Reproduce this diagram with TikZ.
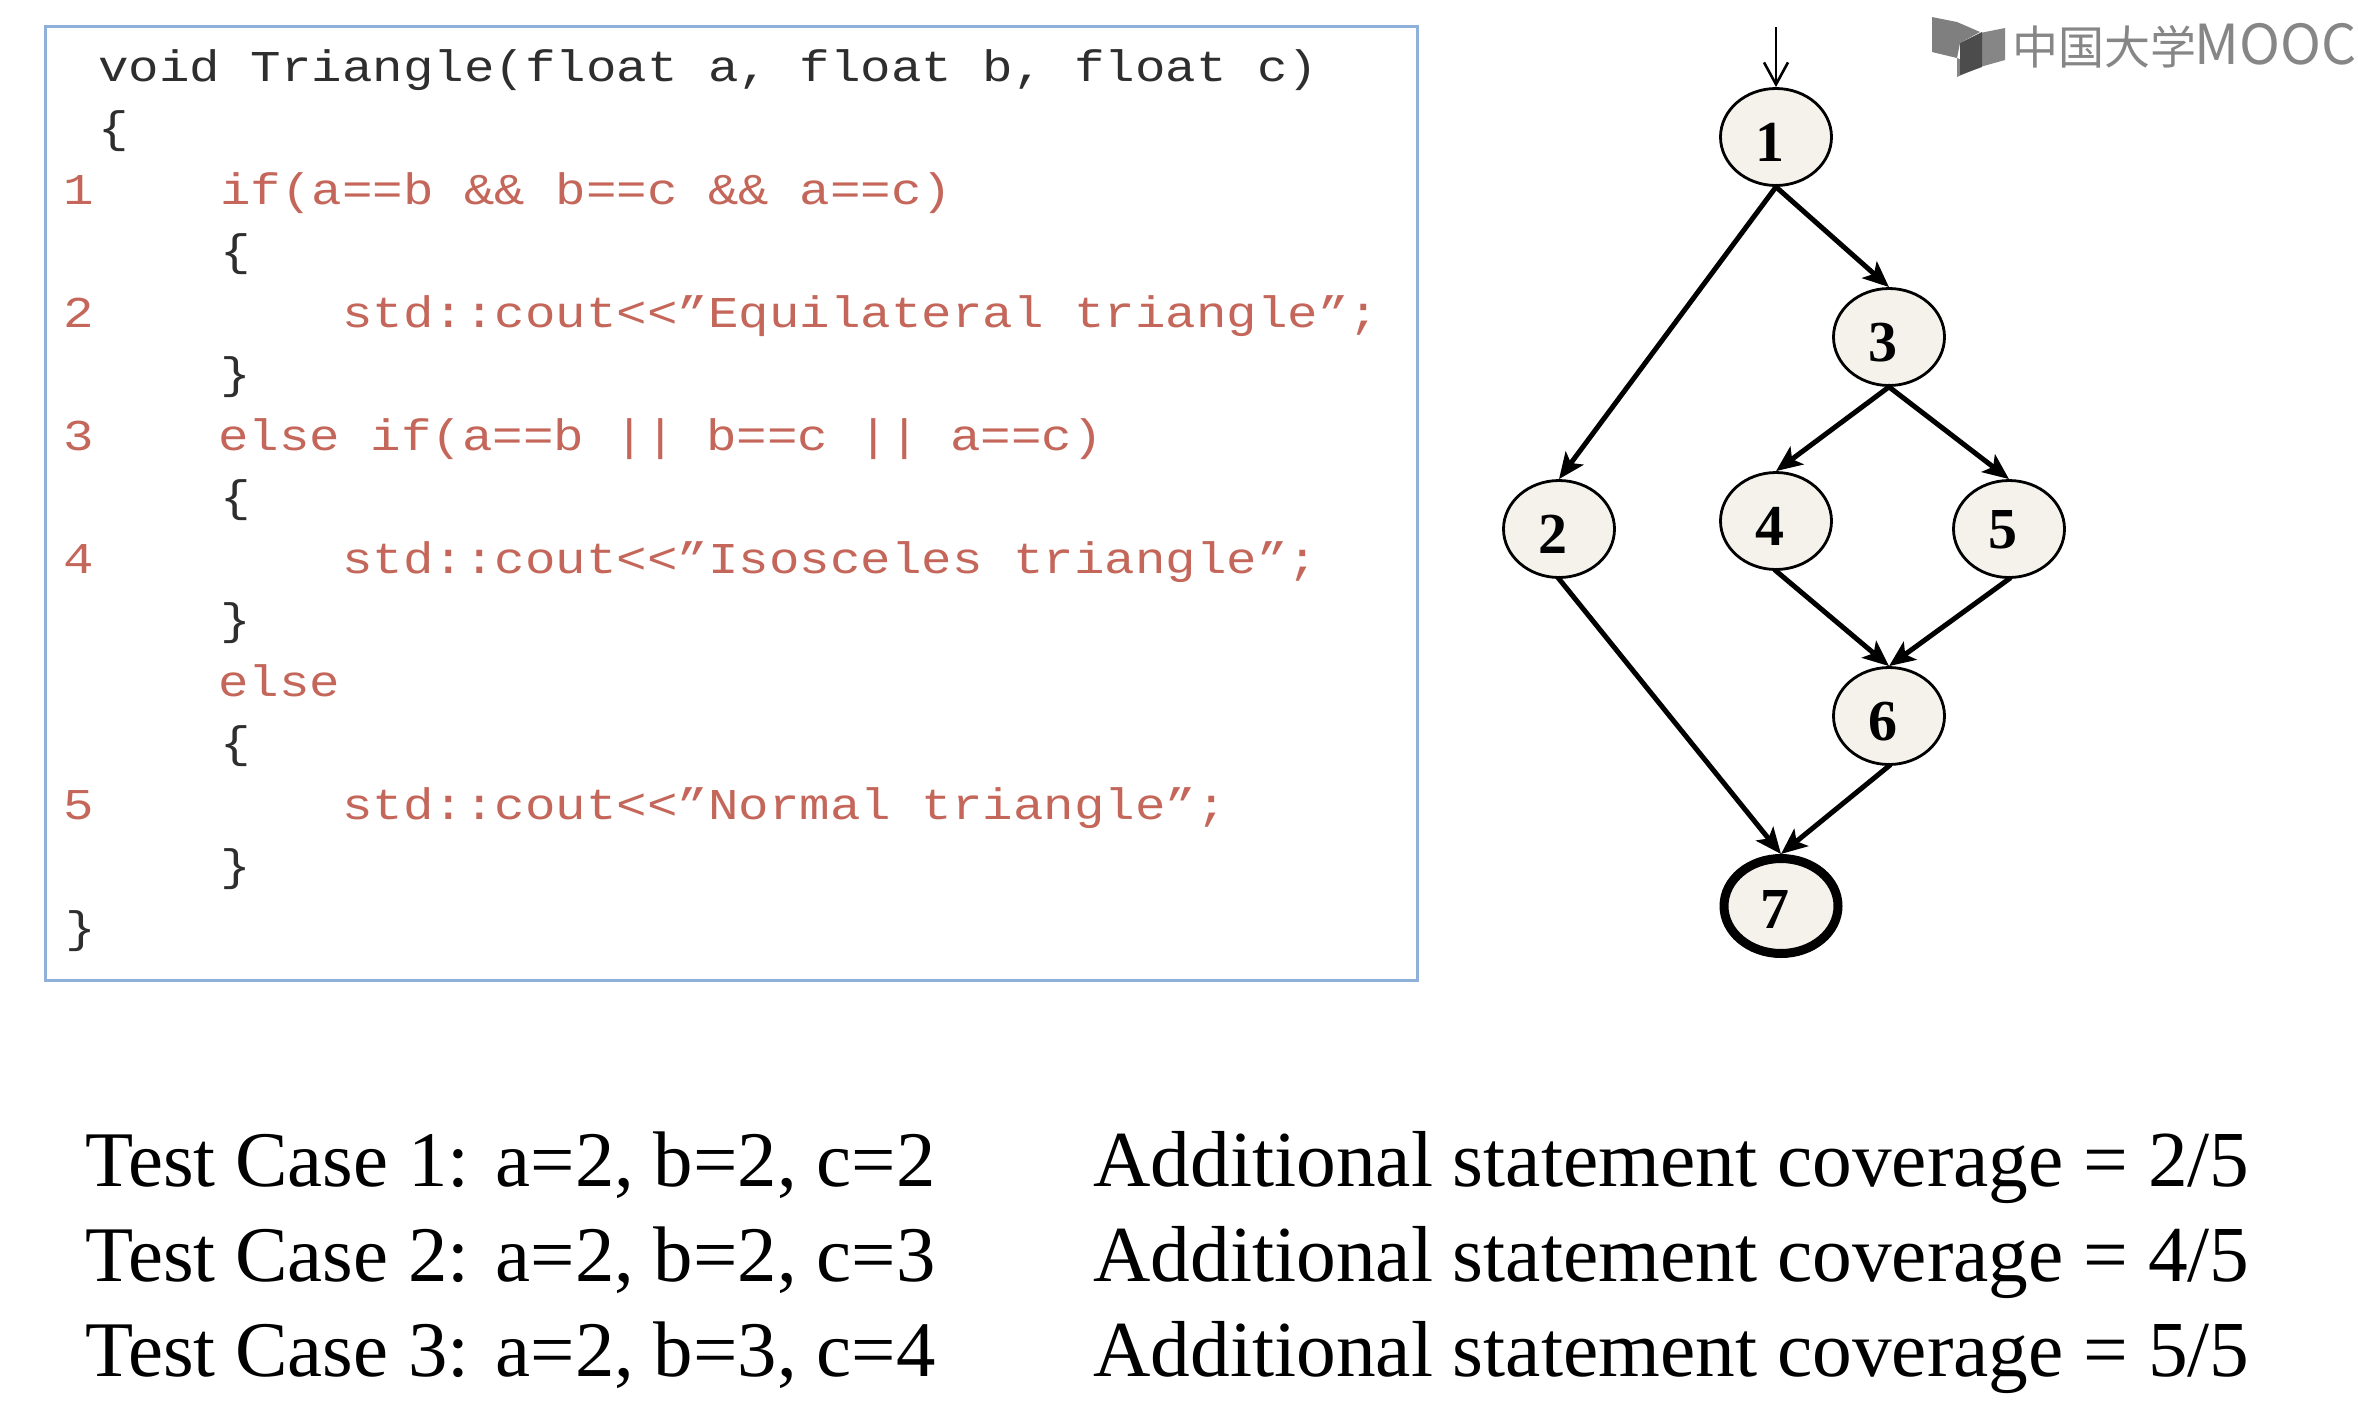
\documentclass[tikz,border=0pt]{standalone}
\usepackage{fontspec}
\setmainfont{Liberation Serif}
\newfontfamily\codefont[FakeStretch=1.155]{Liberation Mono}
\newfontfamily\cjkfont{Noto Sans CJK SC}
\usetikzlibrary{arrows.meta,shapes.geometric}
\definecolor{codered}{HTML}{C4675A}
\definecolor{codeblack}{HTML}{2E2E2E}
\definecolor{boxblue}{HTML}{8FB1D9}
\definecolor{nodefill}{HTML}{F4F2EB}
\definecolor{logogray}{HTML}{868686}
\newcommand{\dgt}[2][-12pt]{\raisebox{#1}[0pt][0pt]{\makebox[0pt]{\hspace{-6pt}\fontsize{29}{29}\selectfont\bfseries #2}}}
\tikzset{
  x=0.5pt,y=-0.5pt,
  codeline/.style={anchor=base west,inner sep=0pt,font=\codefont\fontsize{22}{22}\selectfont},
  cblack/.style={codeline,text=codeblack},
  cred/.style={codeline,text=codered},
  cfgnode/.style={ellipse,draw=black,fill=nodefill,line width=1.4pt,minimum width=55.5pt,minimum height=48.5pt,inner sep=0pt},
  endnode/.style={cfgnode,line width=4.5pt,minimum width=57pt,minimum height=47.5pt},
  edge/.style={line width=2.5pt,-{Stealth[length=13pt,width=11pt,inset=3pt]},black,shorten <=-1pt},
  entry/.style={line width=1.3pt,-{Straight Barb[length=11pt,width=12pt]},black},
  caseleft/.style={anchor=base west,inner sep=0pt,font=\fontsize{39.4}{39.4}\selectfont,text=black},
  caseright/.style={anchor=base west,inner sep=0pt,font=\fontsize{39.7}{39.7}\selectfont,text=black},
}
\begin{document}
\begin{tikzpicture}
\useasboundingbox (0,0) rectangle (2358,1420);
\node[draw=boxblue,line width=1.5pt,fill=white,inner sep=0pt,minimum width=686pt,minimum height=477pt] (box) at (731.5,503.5) {};
% code
\node[cblack] (l0) at (98,81) {void Triangle(float a, float b, float c)};
\node[cblack] (l1) at (98,142) {\{};
\node[cred] (n1) at (63,204) {1};
\node[cred] (l2) at (220,204) {if(a==b \&\& b==c \&\& a==c)};
\node[cblack] (l3) at (220,265) {\{};
\node[cred] (n2) at (63,327) {2};
\node[cred] (l4) at (342,327) {std::cout<<”Equilateral triangle”;};
\node[cblack] (l5) at (220,388) {\}};
\node[cred] (n3) at (63,450) {3};
\node[cred] (l6) at (218,450) {else if(a==b || b==c || a==c)};
\node[cblack] (l7) at (220,511) {\{};
\node[cred] (n4) at (63,573) {4};
\node[cred] (l8) at (342,573) {std::cout<<”Isosceles triangle”;};
\node[cblack] (l9) at (220,634) {\}};
\node[cred] (l10) at (218,696) {else};
\node[cblack] (l11) at (220,757) {\{};
\node[cred] (n5) at (63,819) {5};
\node[cred] (l12) at (342,819) {std::cout<<”Normal triangle”;};
\node[cblack] (l13) at (220,880) {\}};
\node[cblack] (l14) at (65,942) {\}};
% flow graph
\coordinate (start) at (1776,27);
\node[cfgnode] (g1) at (1776,137) {\dgt{1}};
\node[cfgnode] (g2) at (1559,529) {\dgt{2}};
\node[cfgnode] (g3) at (1889,337) {\dgt{3}};
\node[cfgnode] (g4) at (1776,521) {\dgt{4}};
\node[cfgnode] (g5) at (2009,529) {\dgt[-9.5pt]{5}};
\node[cfgnode] (g6) at (1889,716) {\dgt{6}};
\node[endnode] (g7) at (1781,906) {\dgt[-11pt]{7}};
\draw[entry] (start) -- (g1.north);
\draw[edge] (g1.south) -- (g2.north);
\draw[edge] (g1.south) -- (g3.north);
\draw[edge] (g3.south) -- (g4.north);
\draw[edge] (g3.south) -- (g5.north);
\draw[edge] (g4.south) -- (g6.north);
\draw[edge] (g5.south) -- (g6.north);
\draw[edge] (g6.south) -- (g7.north);
\draw[edge] (g2.south) -- (g7.north);
% logo
\fill[logogray!95!black] (1932,17) -- (1957,22) -- (1980,32) -- (1960,43) -- (1957,58) -- (1932,52) -- cycle;
\fill[logogray] (1980,33) -- (2005,28) -- (2005,60) -- (1980,67) -- cycle;
\fill[logogray] (1957,77) -- (1957,58) -- (1980,67) -- cycle;
\fill[black!70] (1960,43) -- (1982,32) -- (1982,67) -- (1960,75) -- cycle;
\node[anchor=west,inner sep=0pt,text=logogray,font=\cjkfont\fontsize{23}{23}\selectfont] (logo) at (2012,46) {中国大学\hspace{-1pt}\fontsize{27.6}{27.6}\selectfont MOOC};
% test cases
\node[caseleft] (t1) at (85,1186) {Test Case 1: a=2, b=2, c=2};
\node[caseleft] (t2) at (85,1281) {Test Case 2: a=2, b=2, c=3};
\node[caseleft] (t3) at (85,1376) {Test Case 3: a=2, b=3, c=4};
\node[caseright] (c1) at (1093,1186) {Additional statement coverage = 2/5};
\node[caseright] (c2) at (1093,1281) {Additional statement coverage = 4/5};
\node[caseright] (c3) at (1093,1376) {Additional statement coverage = 5/5};
\end{tikzpicture}
\end{document}
